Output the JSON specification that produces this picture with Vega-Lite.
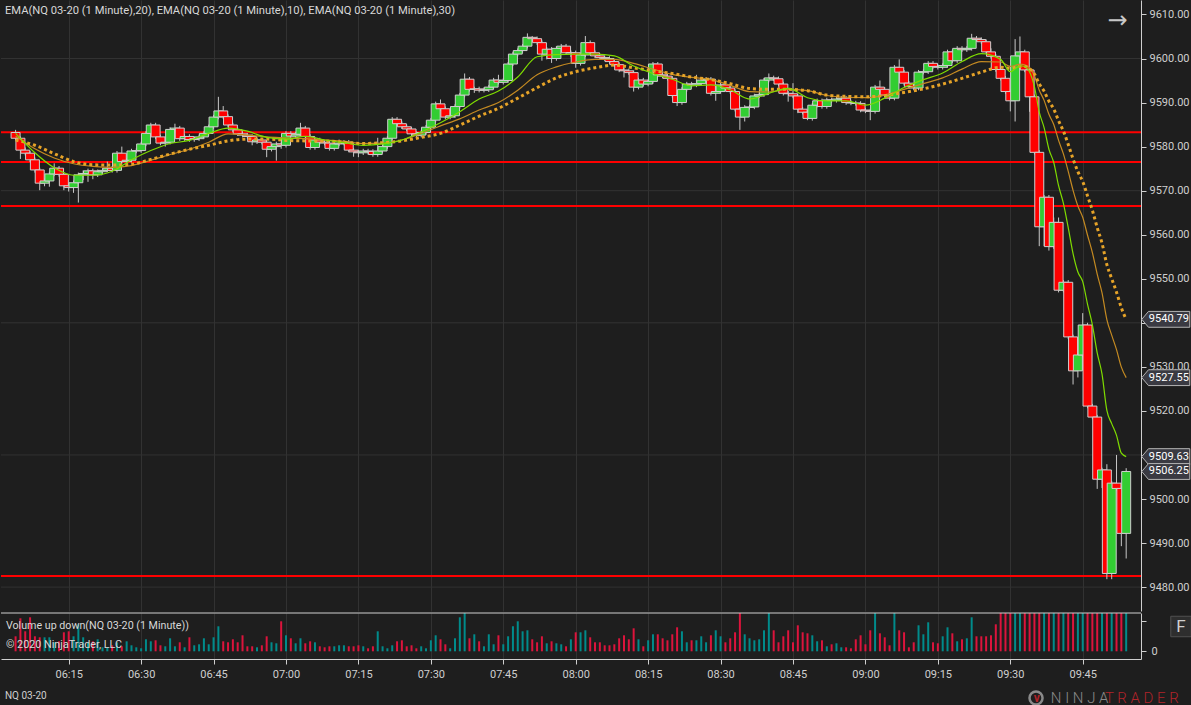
{
  "$schema": "https://vega.github.io/schema/vega-lite/v6.json",
  "background": "#1e1e1e",
  "padding": 0,
  "spacing": 1,
  "config": {"font": "Roboto", "view": {"stroke": null}},
  "datasets": {
    "bars": [
      {"t":4,"o":9583.2,"h":9583.8,"l":9581.4,"c":9581.9,"v":15},
      {"t":5,"o":9581.9,"h":9582.3,"l":9577.2,"c":9579.2,"v":33},
      {"t":6,"o":9579.2,"h":9579.8,"l":9578.0,"c":9578.5,"v":20},
      {"t":7,"o":9578.5,"h":9579.0,"l":9576.5,"c":9577.0,"v":34},
      {"t":8,"o":9577.0,"h":9577.5,"l":9574.1,"c":9574.7,"v":15},
      {"t":9,"o":9574.7,"h":9575.2,"l":9570.1,"c":9571.7,"v":14},
      {"t":10,"o":9571.7,"h":9572.8,"l":9571.0,"c":9572.2,"v":14},
      {"t":11,"o":9572.2,"h":9574.3,"l":9570.9,"c":9573.8,"v":14},
      {"t":12,"o":9573.8,"h":9576.2,"l":9573.3,"c":9575.1,"v":9},
      {"t":13,"o":9575.1,"h":9575.6,"l":9573.2,"c":9573.7,"v":10},
      {"t":14,"o":9573.7,"h":9574.2,"l":9570.1,"c":9571.1,"v":19},
      {"t":15,"o":9571.1,"h":9571.6,"l":9569.8,"c":9570.7,"v":20},
      {"t":16,"o":9570.7,"h":9572.3,"l":9569.5,"c":9571.8,"v":15},
      {"t":17,"o":9571.8,"h":9574.1,"l":9567.3,"c":9573.6,"v":27},
      {"t":18,"o":9573.6,"h":9574.6,"l":9572.4,"c":9573.9,"v":14},
      {"t":19,"o":9573.9,"h":9575.0,"l":9572.0,"c":9574.5,"v":9},
      {"t":20,"o":9574.5,"h":9575.0,"l":9572.6,"c":9573.6,"v":10},
      {"t":21,"o":9573.6,"h":9574.8,"l":9573.1,"c":9574.3,"v":12},
      {"t":22,"o":9574.3,"h":9575.1,"l":9573.8,"c":9574.6,"v":4},
      {"t":23,"o":9574.6,"h":9576.6,"l":9574.2,"c":9575.1,"v":4},
      {"t":24,"o":9575.1,"h":9575.6,"l":9574.1,"c":9574.6,"v":6},
      {"t":25,"o":9574.6,"h":9579.0,"l":9574.1,"c":9578.5,"v":9},
      {"t":26,"o":9578.5,"h":9580.0,"l":9576.1,"c":9576.6,"v":5},
      {"t":27,"o":9576.6,"h":9577.4,"l":9576.0,"c":9576.9,"v":10},
      {"t":28,"o":9576.9,"h":9579.5,"l":9576.4,"c":9579.0,"v":6},
      {"t":29,"o":9579.0,"h":9579.6,"l":9578.5,"c":9579.1,"v":4},
      {"t":30,"o":9579.1,"h":9581.1,"l":9578.6,"c":9580.6,"v":3},
      {"t":31,"o":9580.6,"h":9583.5,"l":9580.1,"c":9583.0,"v":12},
      {"t":32,"o":9583.0,"h":9585.4,"l":9582.5,"c":9584.9,"v":10},
      {"t":33,"o":9584.9,"h":9585.4,"l":9581.7,"c":9582.2,"v":11},
      {"t":34,"o":9582.2,"h":9582.7,"l":9580.3,"c":9580.8,"v":6},
      {"t":35,"o":9580.8,"h":9581.5,"l":9580.0,"c":9581.0,"v":5},
      {"t":36,"o":9581.0,"h":9584.4,"l":9580.5,"c":9583.9,"v":13},
      {"t":37,"o":9583.9,"h":9585.2,"l":9583.4,"c":9584.2,"v":5},
      {"t":38,"o":9584.2,"h":9584.7,"l":9581.3,"c":9581.8,"v":9},
      {"t":39,"o":9581.8,"h":9582.8,"l":9581.3,"c":9582.3,"v":4},
      {"t":40,"o":9582.3,"h":9582.8,"l":9581.1,"c":9581.6,"v":14},
      {"t":41,"o":9581.6,"h":9582.3,"l":9581.1,"c":9581.8,"v":6},
      {"t":42,"o":9581.8,"h":9582.7,"l":9581.3,"c":9582.2,"v":7},
      {"t":43,"o":9582.2,"h":9583.5,"l":9581.7,"c":9583.0,"v":13},
      {"t":44,"o":9583.0,"h":9585.0,"l":9582.5,"c":9584.5,"v":7},
      {"t":45,"o":9584.5,"h":9587.2,"l":9584.0,"c":9586.7,"v":14},
      {"t":46,"o":9586.7,"h":9591.3,"l":9586.2,"c":9588.1,"v":25},
      {"t":47,"o":9588.1,"h":9589.2,"l":9586.3,"c":9586.8,"v":10},
      {"t":48,"o":9586.8,"h":9587.3,"l":9584.4,"c":9584.9,"v":9},
      {"t":49,"o":9584.9,"h":9585.4,"l":9583.3,"c":9583.8,"v":12},
      {"t":50,"o":9583.8,"h":9584.3,"l":9582.4,"c":9582.9,"v":9},
      {"t":51,"o":9582.9,"h":9583.4,"l":9582.1,"c":9582.6,"v":16},
      {"t":52,"o":9582.6,"h":9583.1,"l":9581.8,"c":9582.3,"v":5},
      {"t":53,"o":9582.3,"h":9582.8,"l":9580.3,"c":9581.1,"v":5},
      {"t":54,"o":9581.1,"h":9582.0,"l":9580.6,"c":9581.5,"v":4},
      {"t":55,"o":9581.5,"h":9582.0,"l":9580.5,"c":9581.0,"v":6},
      {"t":56,"o":9581.0,"h":9581.5,"l":9577.6,"c":9579.4,"v":15},
      {"t":57,"o":9579.4,"h":9580.5,"l":9578.9,"c":9580.0,"v":9},
      {"t":58,"o":9580.0,"h":9581.1,"l":9576.8,"c":9580.6,"v":8},
      {"t":59,"o":9580.6,"h":9581.1,"l":9579.5,"c":9580.3,"v":30},
      {"t":60,"o":9580.3,"h":9583.5,"l":9579.8,"c":9583.0,"v":16},
      {"t":61,"o":9583.0,"h":9583.5,"l":9581.9,"c":9582.4,"v":13},
      {"t":62,"o":9582.4,"h":9583.3,"l":9581.9,"c":9582.8,"v":8},
      {"t":63,"o":9582.8,"h":9585.4,"l":9582.3,"c":9584.2,"v":13},
      {"t":64,"o":9584.2,"h":9584.7,"l":9581.8,"c":9582.3,"v":8},
      {"t":65,"o":9582.3,"h":9582.8,"l":9579.3,"c":9579.8,"v":10},
      {"t":66,"o":9579.8,"h":9582.0,"l":9579.3,"c":9581.5,"v":9},
      {"t":67,"o":9581.5,"h":9582.0,"l":9580.5,"c":9581.0,"v":5},
      {"t":68,"o":9581.0,"h":9581.5,"l":9580.3,"c":9580.8,"v":4},
      {"t":69,"o":9580.8,"h":9581.3,"l":9579.1,"c":9579.6,"v":5},
      {"t":70,"o":9579.6,"h":9581.1,"l":9579.1,"c":9580.6,"v":5},
      {"t":71,"o":9580.6,"h":9581.6,"l":9580.1,"c":9580.8,"v":6},
      {"t":72,"o":9580.8,"h":9581.5,"l":9580.3,"c":9581.0,"v":6},
      {"t":73,"o":9581.0,"h":9581.5,"l":9578.7,"c":9579.2,"v":5},
      {"t":74,"o":9579.2,"h":9579.7,"l":9577.7,"c":9578.8,"v":5},
      {"t":75,"o":9578.8,"h":9579.3,"l":9577.6,"c":9578.6,"v":6},
      {"t":76,"o":9578.6,"h":9579.5,"l":9578.1,"c":9579.0,"v":5},
      {"t":77,"o":9579.0,"h":9579.5,"l":9578.2,"c":9578.9,"v":3},
      {"t":78,"o":9578.9,"h":9579.4,"l":9577.7,"c":9578.2,"v":5},
      {"t":79,"o":9578.2,"h":9582.0,"l":9577.7,"c":9579.0,"v":20},
      {"t":80,"o":9579.0,"h":9580.5,"l":9578.5,"c":9580.0,"v":5},
      {"t":81,"o":9580.0,"h":9582.4,"l":9579.5,"c":9581.9,"v":3},
      {"t":82,"o":9581.9,"h":9586.7,"l":9581.4,"c":9586.2,"v":6},
      {"t":83,"o":9586.2,"h":9586.7,"l":9584.7,"c":9585.2,"v":10},
      {"t":84,"o":9585.2,"h":9585.7,"l":9584.0,"c":9584.5,"v":11},
      {"t":85,"o":9584.5,"h":9585.0,"l":9583.5,"c":9584.0,"v":5},
      {"t":86,"o":9584.0,"h":9584.5,"l":9582.4,"c":9582.9,"v":6},
      {"t":87,"o":9582.9,"h":9583.4,"l":9582.1,"c":9582.6,"v":3},
      {"t":88,"o":9582.6,"h":9583.7,"l":9582.1,"c":9583.2,"v":5},
      {"t":89,"o":9583.2,"h":9584.9,"l":9582.7,"c":9584.4,"v":3},
      {"t":90,"o":9584.4,"h":9586.5,"l":9583.9,"c":9586.0,"v":11},
      {"t":91,"o":9586.0,"h":9590.2,"l":9585.5,"c":9589.7,"v":16},
      {"t":92,"o":9589.7,"h":9590.7,"l":9588.1,"c":9588.6,"v":12},
      {"t":93,"o":9588.6,"h":9589.1,"l":9586.2,"c":9586.7,"v":7},
      {"t":94,"o":9586.7,"h":9587.5,"l":9586.2,"c":9587.0,"v":3},
      {"t":95,"o":9587.0,"h":9589.6,"l":9586.5,"c":9589.1,"v":13},
      {"t":96,"o":9589.1,"h":9592.2,"l":9588.6,"c":9591.7,"v":34},
      {"t":97,"o":9591.7,"h":9596.6,"l":9591.2,"c":9595.3,"v":45},
      {"t":98,"o":9595.3,"h":9595.8,"l":9592.5,"c":9593.0,"v":13},
      {"t":99,"o":9593.0,"h":9593.6,"l":9592.2,"c":9593.1,"v":17},
      {"t":100,"o":9593.1,"h":9593.6,"l":9592.3,"c":9592.8,"v":10},
      {"t":101,"o":9592.8,"h":9593.4,"l":9592.3,"c":9592.9,"v":5},
      {"t":102,"o":9592.9,"h":9594.0,"l":9592.4,"c":9593.5,"v":17},
      {"t":103,"o":9593.5,"h":9595.6,"l":9593.0,"c":9595.1,"v":7},
      {"t":104,"o":9595.1,"h":9596.3,"l":9594.1,"c":9594.6,"v":16},
      {"t":105,"o":9594.6,"h":9595.5,"l":9594.1,"c":9595.0,"v":7},
      {"t":106,"o":9595.0,"h":9599.2,"l":9594.5,"c":9598.75,"v":15},
      {"t":107,"o":9598.75,"h":9601.5,"l":9598.3,"c":9601.0,"v":25},
      {"t":108,"o":9601.0,"h":9602.3,"l":9600.5,"c":9601.8,"v":30},
      {"t":109,"o":9601.8,"h":9603.3,"l":9601.3,"c":9602.8,"v":20},
      {"t":110,"o":9602.8,"h":9605.7,"l":9602.3,"c":9604.8,"v":21},
      {"t":111,"o":9604.8,"h":9605.1,"l":9604.0,"c":9604.5,"v":12},
      {"t":112,"o":9604.5,"h":9605.0,"l":9603.1,"c":9603.6,"v":9},
      {"t":113,"o":9603.6,"h":9604.1,"l":9599.5,"c":9601.0,"v":15},
      {"t":114,"o":9601.0,"h":9602.6,"l":9599.8,"c":9602.1,"v":8},
      {"t":115,"o":9602.1,"h":9602.6,"l":9599.0,"c":9600.0,"v":10},
      {"t":116,"o":9600.0,"h":9602.8,"l":9599.5,"c":9602.3,"v":8},
      {"t":117,"o":9602.3,"h":9603.3,"l":9601.8,"c":9602.8,"v":7},
      {"t":118,"o":9602.8,"h":9603.3,"l":9600.8,"c":9601.3,"v":5},
      {"t":119,"o":9601.3,"h":9601.8,"l":9600.3,"c":9601.3,"v":12},
      {"t":120,"o":9601.3,"h":9601.8,"l":9597.9,"c":9598.9,"v":19},
      {"t":121,"o":9598.9,"h":9601.3,"l":9598.4,"c":9600.8,"v":19},
      {"t":122,"o":9600.8,"h":9605.1,"l":9600.3,"c":9603.6,"v":21},
      {"t":123,"o":9603.6,"h":9604.1,"l":9600.8,"c":9601.3,"v":14},
      {"t":124,"o":9601.3,"h":9601.8,"l":9600.1,"c":9600.6,"v":9},
      {"t":125,"o":9600.6,"h":9601.1,"l":9599.7,"c":9600.2,"v":9},
      {"t":126,"o":9600.2,"h":9600.7,"l":9599.5,"c":9600.0,"v":6},
      {"t":127,"o":9600.0,"h":9600.5,"l":9598.8,"c":9599.3,"v":6},
      {"t":128,"o":9599.3,"h":9599.8,"l":9598.1,"c":9598.6,"v":7},
      {"t":129,"o":9598.6,"h":9599.1,"l":9596.9,"c":9597.4,"v":13},
      {"t":130,"o":9597.4,"h":9597.9,"l":9595.7,"c":9597.2,"v":16},
      {"t":131,"o":9597.2,"h":9597.7,"l":9596.3,"c":9596.8,"v":12},
      {"t":132,"o":9596.8,"h":9597.3,"l":9592.5,"c":9593.5,"v":23},
      {"t":133,"o":9593.5,"h":9595.6,"l":9593.0,"c":9595.1,"v":12},
      {"t":134,"o":9595.1,"h":9595.6,"l":9593.7,"c":9594.2,"v":5},
      {"t":135,"o":9594.2,"h":9595.3,"l":9593.7,"c":9594.8,"v":11},
      {"t":136,"o":9594.8,"h":9599.2,"l":9594.3,"c":9598.75,"v":17},
      {"t":137,"o":9598.75,"h":9599.2,"l":9595.8,"c":9596.3,"v":17},
      {"t":138,"o":9596.3,"h":9596.8,"l":9595.5,"c":9596.0,"v":13},
      {"t":139,"o":9596.0,"h":9596.5,"l":9595.0,"c":9595.5,"v":11},
      {"t":140,"o":9595.5,"h":9596.0,"l":9591.1,"c":9591.6,"v":17},
      {"t":141,"o":9591.6,"h":9592.1,"l":9589.2,"c":9590.0,"v":24},
      {"t":142,"o":9590.0,"h":9593.5,"l":9589.5,"c":9593.0,"v":20},
      {"t":143,"o":9593.0,"h":9594.7,"l":9592.5,"c":9594.2,"v":9},
      {"t":144,"o":9594.2,"h":9594.7,"l":9593.5,"c":9594.0,"v":11},
      {"t":145,"o":9594.0,"h":9596.3,"l":9593.5,"c":9594.3,"v":11},
      {"t":146,"o":9594.3,"h":9595.6,"l":9593.8,"c":9595.1,"v":15},
      {"t":147,"o":9595.1,"h":9595.8,"l":9594.6,"c":9595.3,"v":9},
      {"t":148,"o":9595.3,"h":9595.8,"l":9591.6,"c":9592.1,"v":16},
      {"t":149,"o":9592.1,"h":9593.0,"l":9590.4,"c":9592.5,"v":21},
      {"t":150,"o":9592.5,"h":9594.5,"l":9592.0,"c":9594.0,"v":15},
      {"t":151,"o":9594.0,"h":9594.5,"l":9592.8,"c":9593.3,"v":9},
      {"t":152,"o":9593.3,"h":9593.8,"l":9592.0,"c":9592.5,"v":13},
      {"t":153,"o":9592.5,"h":9593.0,"l":9588.0,"c":9588.5,"v":19},
      {"t":154,"o":9588.5,"h":9589.0,"l":9583.8,"c":9586.7,"v":45},
      {"t":155,"o":9586.7,"h":9589.4,"l":9585.7,"c":9588.9,"v":17},
      {"t":156,"o":9588.9,"h":9589.5,"l":9588.4,"c":9589.0,"v":13},
      {"t":157,"o":9589.0,"h":9592.0,"l":9588.5,"c":9591.5,"v":11},
      {"t":158,"o":9591.5,"h":9592.3,"l":9591.0,"c":9591.8,"v":12},
      {"t":159,"o":9591.8,"h":9595.6,"l":9591.3,"c":9595.1,"v":21},
      {"t":160,"o":9595.1,"h":9596.6,"l":9594.6,"c":9595.6,"v":45},
      {"t":161,"o":9595.6,"h":9596.1,"l":9594.9,"c":9595.4,"v":21},
      {"t":162,"o":9595.4,"h":9595.9,"l":9593.7,"c":9594.2,"v":9},
      {"t":163,"o":9594.2,"h":9594.7,"l":9591.6,"c":9592.1,"v":15},
      {"t":164,"o":9592.1,"h":9592.6,"l":9590.2,"c":9592.0,"v":21},
      {"t":165,"o":9592.0,"h":9594.4,"l":9591.0,"c":9591.5,"v":9},
      {"t":166,"o":9591.5,"h":9592.0,"l":9587.6,"c":9588.5,"v":26},
      {"t":167,"o":9588.5,"h":9589.0,"l":9587.3,"c":9587.8,"v":19},
      {"t":168,"o":9587.8,"h":9588.3,"l":9586.0,"c":9586.4,"v":18},
      {"t":169,"o":9586.4,"h":9589.9,"l":9585.9,"c":9589.4,"v":16},
      {"t":170,"o":9589.4,"h":9590.9,"l":9588.9,"c":9590.4,"v":10},
      {"t":171,"o":9590.4,"h":9590.9,"l":9588.6,"c":9589.1,"v":11},
      {"t":172,"o":9589.1,"h":9591.1,"l":9588.6,"c":9590.6,"v":5},
      {"t":173,"o":9590.6,"h":9591.1,"l":9590.0,"c":9590.5,"v":7},
      {"t":174,"o":9590.5,"h":9591.3,"l":9590.0,"c":9590.8,"v":8},
      {"t":175,"o":9590.8,"h":9591.5,"l":9590.3,"c":9591.0,"v":4},
      {"t":176,"o":9591.0,"h":9591.5,"l":9589.5,"c":9590.0,"v":4},
      {"t":177,"o":9590.0,"h":9590.5,"l":9589.4,"c":9589.9,"v":3},
      {"t":178,"o":9589.9,"h":9590.4,"l":9589.3,"c":9589.8,"v":12},
      {"t":179,"o":9589.8,"h":9590.3,"l":9587.8,"c":9588.3,"v":16},
      {"t":180,"o":9588.3,"h":9588.8,"l":9587.6,"c":9588.1,"v":7},
      {"t":181,"o":9588.1,"h":9588.6,"l":9586.0,"c":9588.0,"v":21},
      {"t":182,"o":9588.0,"h":9594.0,"l":9587.5,"c":9593.5,"v":45},
      {"t":183,"o":9593.5,"h":9595.0,"l":9592.5,"c":9593.0,"v":18},
      {"t":184,"o":9593.0,"h":9593.5,"l":9591.2,"c":9591.7,"v":14},
      {"t":185,"o":9591.7,"h":9592.2,"l":9590.5,"c":9591.0,"v":6},
      {"t":186,"o":9591.0,"h":9598.5,"l":9590.5,"c":9598.0,"v":45},
      {"t":187,"o":9598.0,"h":9599.8,"l":9596.4,"c":9596.9,"v":21},
      {"t":188,"o":9596.9,"h":9597.4,"l":9593.9,"c":9594.4,"v":19},
      {"t":189,"o":9594.4,"h":9594.9,"l":9593.1,"c":9593.6,"v":4},
      {"t":190,"o":9593.6,"h":9594.1,"l":9592.8,"c":9593.3,"v":9},
      {"t":191,"o":9593.3,"h":9597.4,"l":9592.8,"c":9596.9,"v":26},
      {"t":192,"o":9596.9,"h":9597.5,"l":9596.4,"c":9597.0,"v":17},
      {"t":193,"o":9597.0,"h":9599.4,"l":9596.5,"c":9598.9,"v":29},
      {"t":194,"o":9598.9,"h":9599.4,"l":9597.7,"c":9598.2,"v":9},
      {"t":195,"o":9598.2,"h":9598.7,"l":9597.5,"c":9598.0,"v":8},
      {"t":196,"o":9598.0,"h":9598.9,"l":9597.5,"c":9598.4,"v":15},
      {"t":197,"o":9598.4,"h":9602.0,"l":9597.9,"c":9601.5,"v":24},
      {"t":198,"o":9601.5,"h":9602.0,"l":9599.0,"c":9599.5,"v":18},
      {"t":199,"o":9599.5,"h":9602.8,"l":9599.0,"c":9602.3,"v":10},
      {"t":200,"o":9602.3,"h":9602.8,"l":9601.5,"c":9602.0,"v":12},
      {"t":201,"o":9602.0,"h":9602.8,"l":9601.5,"c":9602.3,"v":13},
      {"t":202,"o":9602.3,"h":9605.6,"l":9601.8,"c":9604.6,"v":34},
      {"t":203,"o":9604.6,"h":9605.1,"l":9603.8,"c":9604.3,"v":15},
      {"t":204,"o":9604.3,"h":9604.8,"l":9603.3,"c":9603.8,"v":15},
      {"t":205,"o":9603.8,"h":9604.3,"l":9601.0,"c":9601.5,"v":15},
      {"t":206,"o":9601.5,"h":9602.3,"l":9600.0,"c":9600.5,"v":16},
      {"t":207,"o":9600.5,"h":9601.0,"l":9597.0,"c":9597.5,"v":27},
      {"t":208,"o":9597.5,"h":9598.0,"l":9595.0,"c":9595.5,"v":60},
      {"t":209,"o":9595.5,"h":9596.0,"l":9592.0,"c":9592.5,"v":60},
      {"t":210,"o":9592.5,"h":9593.0,"l":9588.0,"c":9590.4,"v":60},
      {"t":211,"o":9590.4,"h":9604.4,"l":9585.7,"c":9600.6,"v":60},
      {"t":212,"o":9600.6,"h":9605.0,"l":9600.1,"c":9601.5,"v":60},
      {"t":213,"o":9601.5,"h":9602.0,"l":9596.9,"c":9597.4,"v":60},
      {"t":214,"o":9597.4,"h":9597.9,"l":9587.9,"c":9591.3,"v":60},
      {"t":215,"o":9591.3,"h":9591.8,"l":9578.2,"c":9578.7,"v":60},
      {"t":216,"o":9578.7,"h":9579.2,"l":9557.4,"c":9561.8,"v":60},
      {"t":217,"o":9561.8,"h":9569.0,"l":9557.4,"c":9568.5,"v":60},
      {"t":218,"o":9568.5,"h":9569.0,"l":9556.4,"c":9557.3,"v":60},
      {"t":219,"o":9557.3,"h":9563.9,"l":9556.8,"c":9562.8,"v":60},
      {"t":220,"o":9562.8,"h":9563.9,"l":9546.9,"c":9547.4,"v":60},
      {"t":221,"o":9547.4,"h":9549.7,"l":9546.9,"c":9549.2,"v":60},
      {"t":222,"o":9549.2,"h":9549.7,"l":9536.3,"c":9536.8,"v":60},
      {"t":223,"o":9536.8,"h":9537.3,"l":9526.0,"c":9529.1,"v":60},
      {"t":224,"o":9529.1,"h":9533.2,"l":9527.6,"c":9532.7,"v":60},
      {"t":225,"o":9532.7,"h":9542.2,"l":9532.2,"c":9539.5,"v":60},
      {"t":226,"o":9539.5,"h":9540.0,"l":9520.6,"c":9521.1,"v":60},
      {"t":227,"o":9521.1,"h":9521.6,"l":9518.1,"c":9518.6,"v":60},
      {"t":228,"o":9518.6,"h":9519.1,"l":9502.3,"c":9504.5,"v":60},
      {"t":229,"o":9504.5,"h":9507.1,"l":9502.5,"c":9506.6,"v":60},
      {"t":230,"o":9506.6,"h":9507.9,"l":9481.8,"c":9483.1,"v":60},
      {"t":231,"o":9483.1,"h":9504.1,"l":9481.8,"c":9503.6,"v":60},
      {"t":232,"o":9503.6,"h":9510.0,"l":9501.9,"c":9502.4,"v":60},
      {"t":233,"o":9502.4,"h":9502.9,"l":9489.3,"c":9492.2,"v":60},
      {"t":234,"o":9492.2,"h":9507.0,"l":9486.5,"c":9506.25,"v":60}
    ],
    "ema": [
      {"t":4,"e10":9583.0,"e20":9582.4,"e30":9581.5},
      {"t":8,"e10":9578.6,"e20":9579.5,"e30":9580.3},
      {"t":12,"e10":9575.2,"e20":9577.4,"e30":9578.4},
      {"t":16,"e10":9573.5,"e20":9576.1,"e30":9576.6},
      {"t":20,"e10":9573.5,"e20":9575.5,"e30":9575.9},
      {"t":24,"e10":9574.4,"e20":9575.3,"e30":9575.8},
      {"t":28,"e10":9577.0,"e20":9575.7,"e30":9576.0},
      {"t":32,"e10":9579.1,"e20":9576.9,"e30":9577.1},
      {"t":36,"e10":9580.7,"e20":9578.2,"e30":9578.3},
      {"t":40,"e10":9581.4,"e20":9579.4,"e30":9579.4},
      {"t":44,"e10":9583.0,"e20":9581.0,"e30":9580.3},
      {"t":48,"e10":9584.2,"e20":9582.9,"e30":9581.3},
      {"t":52,"e10":9583.5,"e20":9582.6,"e30":9581.7},
      {"t":56,"e10":9582.1,"e20":9582.2,"e30":9581.7},
      {"t":60,"e10":9581.7,"e20":9582.0,"e30":9581.4},
      {"t":64,"e10":9582.3,"e20":9581.8,"e30":9581.3},
      {"t":68,"e10":9581.5,"e20":9581.5,"e30":9581.3},
      {"t":72,"e10":9580.9,"e20":9581.2,"e30":9581.0},
      {"t":76,"e10":9580.3,"e20":9580.7,"e30":9580.7},
      {"t":80,"e10":9580.6,"e20":9580.8,"e30":9580.9},
      {"t":84,"e10":9581.5,"e20":9581.5,"e30":9581.3},
      {"t":88,"e10":9583.3,"e20":9583.0,"e30":9582.1},
      {"t":92,"e10":9585.4,"e20":9584.7,"e30":9583.0},
      {"t":96,"e10":9587.9,"e20":9586.3,"e30":9584.9},
      {"t":100,"e10":9590.8,"e20":9588.3,"e30":9586.9},
      {"t":104,"e10":9592.6,"e20":9590.0,"e30":9588.7},
      {"t":108,"e10":9595.8,"e20":9592.8,"e30":9591.0},
      {"t":112,"e10":9600.4,"e20":9596.3,"e30":9593.4},
      {"t":116,"e10":9600.9,"e20":9598.1,"e30":9595.6},
      {"t":120,"e10":9601.0,"e20":9599.2,"e30":9597.0},
      {"t":124,"e10":9601.0,"e20":9599.8,"e30":9597.9},
      {"t":128,"e10":9600.6,"e20":9599.8,"e30":9598.5},
      {"t":132,"e10":9598.3,"e20":9598.9,"e30":9597.9},
      {"t":136,"e10":9596.6,"e20":9597.6,"e30":9597.2},
      {"t":140,"e10":9595.3,"e20":9596.4,"e30":9596.6},
      {"t":144,"e10":9593.8,"e20":9595.7,"e30":9595.8},
      {"t":148,"e10":9594.0,"e20":9595.2,"e30":9595.2},
      {"t":152,"e10":9592.9,"e20":9593.9,"e30":9594.3},
      {"t":156,"e10":9590.8,"e20":9592.5,"e30":9593.2},
      {"t":160,"e10":9592.1,"e20":9592.4,"e30":9593.0},
      {"t":164,"e10":9593.2,"e20":9593.0,"e30":9593.0},
      {"t":168,"e10":9591.1,"e20":9592.7,"e30":9592.7},
      {"t":172,"e10":9590.4,"e20":9591.6,"e30":9591.7},
      {"t":176,"e10":9590.4,"e20":9591.2,"e30":9591.4},
      {"t":180,"e10":9589.4,"e20":9591.1,"e30":9591.3},
      {"t":184,"e10":9591.0,"e20":9591.7,"e30":9591.6},
      {"t":188,"e10":9593.4,"e20":9593.0,"e30":9592.3},
      {"t":192,"e10":9595.2,"e20":9594.3,"e30":9593.1},
      {"t":196,"e10":9596.7,"e20":9595.6,"e30":9594.2},
      {"t":200,"e10":9599.3,"e20":9597.6,"e30":9595.5},
      {"t":204,"e10":9601.1,"e20":9599.3,"e30":9596.9},
      {"t":208,"e10":9599.8,"e20":9599.2,"e30":9598.0},
      {"t":210,"e10":9597.0,"e20":9598.2,"e30":9597.8},
      {"t":211,"e10":9597.65,"e20":9598.43,"e30":9597.98},
      {"t":212,"e10":9598.35,"e20":9598.72,"e30":9598.21},
      {"t":213,"e10":9598.18,"e20":9598.59,"e30":9598.16},
      {"t":214,"e10":9596.93,"e20":9597.9,"e30":9597.71},
      {"t":215,"e10":9593.61,"e20":9596.07,"e30":9596.49},
      {"t":216,"e10":9587.83,"e20":9592.81,"e30":9594.25},
      {"t":217,"e10":9584.32,"e20":9590.49,"e30":9592.59},
      {"t":218,"e10":9579.4,"e20":9587.33,"e30":9590.31},
      {"t":219,"e10":9576.39,"e20":9585.0,"e30":9588.54},
      {"t":220,"e10":9571.12,"e20":9581.42,"e30":9585.88},
      {"t":221,"e10":9567.13,"e20":9578.35,"e30":9583.52},
      {"t":222,"e10":9561.62,"e20":9574.39,"e30":9580.5},
      {"t":223,"e10":9555.71,"e20":9570.08,"e30":9577.19},
      {"t":224,"e10":9551.52,"e20":9566.52,"e30":9574.32},
      {"t":225,"e10":9549.34,"e20":9563.95,"e30":9572.07},
      {"t":226,"e10":9544.2,"e20":9559.87,"e30":9568.79},
      {"t":227,"e10":9539.55,"e20":9555.94,"e30":9565.55},
      {"t":228,"e10":9533.18,"e20":9551.05,"e30":9561.61},
      {"t":229,"e10":9528.35,"e20":9546.81,"e30":9558.07},
      {"t":230,"e10":9520.12,"e20":9540.75,"e30":9553.23},
      {"t":231,"e10":9517.12,"e20":9537.21,"e30":9550.03},
      {"t":232,"e10":9514.44,"e20":9533.9,"e30":9546.96},
      {"t":233,"e10":9510.4,"e20":9529.93,"e30":9543.42},
      {"t":234,"e10":9509.63,"e20":9527.55,"e30":9540.79}
    ]
  },
  "vconcat": [
    {
      "width": 1140,
      "height": 611,
      "layer": [
        {
          "data": {"values": [{"g": 9480}, {"g": 9510}, {"g": 9540}, {"g": 9570}, {"g": 9600}]},
          "mark": {"type": "rule", "color": "#323232", "strokeWidth": 1},
          "encoding": {
            "y": {
              "field": "g", "type": "quantitative",
              "scale": {"domain": [9474.58, 9613.28], "nice": false, "zero": false, "padding": 0},
              "axis": {
                "orient": "right", "title": null, "grid": false,
                "values": [9480, 9490, 9500, 9510, 9520, 9530, 9540, 9550, 9560, 9570, 9580, 9590, 9600, 9610],
                "labelExpr": "datum.value == 9540 || datum.value == 9510 ? '' : format(datum.value, '.2f')",
                "tickSize": 5, "tickColor": "#cfcfcf", "domainColor": "#cfcfcf",
                "labelColor": "#cfcfcf", "labelFontSize": 11, "labelPadding": 3
              }
            }
          }
        },
        {
          "data": {"values": [{"r": 9583.25}, {"r": 9576.5}, {"r": 9566.5}, {"r": 9482.5}]},
          "mark": {"type": "rule", "color": "#ff0000", "strokeWidth": 2},
          "encoding": {"y": {"field": "r", "type": "quantitative"}}
        },
        {
          "data": {"name": "bars"},
          "mark": {"type": "rule", "color": "#c8c8c8", "strokeWidth": 1},
          "encoding": {
            "x": {
              "field": "t", "type": "quantitative",
              "scale": {"domain": [0.98, 237.07], "nice": false, "zero": false, "padding": 0},
              "axis": {
                "title": null, "values": [15, 30, 45, 60, 75, 90, 105, 120, 135, 150, 165, 180, 195, 210, 225],
                "grid": true, "gridColor": "#323232", "labels": false, "ticks": false, "domain": false
              }
            },
            "y": {"field": "l", "type": "quantitative"},
            "y2": {"field": "h"}
          }
        },
        {
          "data": {"name": "bars"},
          "mark": {"type": "bar", "width": 9, "stroke": "#cfcfcf", "strokeWidth": 1},
          "encoding": {
            "x": {"field": "t", "type": "quantitative"},
            "y": {"field": "o", "type": "quantitative"},
            "y2": {"field": "c"},
            "fill": {"condition": {"test": "datum.c >= datum.o", "value": "#32cd32"}, "value": "#ff0000"}
          }
        },
        {
          "data": {"name": "ema"},
          "mark": {"type": "line", "color": "#c48a22", "strokeWidth": 1.2, "interpolate": "monotone"},
          "encoding": {"x": {"field": "t", "type": "quantitative"}, "y": {"field": "e20", "type": "quantitative"}}
        },
        {
          "data": {"name": "ema"},
          "mark": {"type": "line", "color": "#e6a328", "strokeWidth": 3, "strokeDash": [3, 3], "strokeCap": "butt", "interpolate": "monotone"},
          "encoding": {"x": {"field": "t", "type": "quantitative"}, "y": {"field": "e30", "type": "quantitative"}}
        },
        {
          "data": {"name": "ema"},
          "mark": {"type": "line", "color": "#7fdc00", "strokeWidth": 1.2, "interpolate": "monotone"},
          "encoding": {"x": {"field": "t", "type": "quantitative"}, "y": {"field": "e10", "type": "quantitative"}}
        },
        {
          "data": {"values": [{}]},
          "mark": {"type": "text", "align": "left", "baseline": "middle", "fontSize": 11.2, "color": "#d8d8d8"},
          "encoding": {
            "x": {"datum": 1.8}, "y": {"datum": 9610.78},
            "text": {"value": "EMA(NQ 03-20 (1 Minute),20), EMA(NQ 03-20 (1 Minute),10), EMA(NQ 03-20 (1 Minute),30)"}
          }
        },
        {
          "data": {"values": [{}]},
          "mark": {"type": "text", "align": "center", "baseline": "middle", "fontSize": 24, "font": "DejaVu Sans", "color": "#c8c8c8"},
          "encoding": {"x": {"datum": 232.2}, "y": {"datum": 9608.51}, "text": {"value": "→"}}
        },
        {
          "data": {"values": [{"p": 9540.79}, {"p": 9527.55}, {"p": 9509.63}, {"p": 9506.25}]},
          "mark": {
            "type": "point", "filled": true, "size": 2304, "fill": "#3a3a42", "stroke": "#b4b4b4", "strokeWidth": 1, "opacity": 1,
            "shape": "M-1,0L-0.72,-0.33L1,-0.33L1,0.33L-0.72,0.33Z"
          },
          "encoding": {"x": {"datum": 242.2}, "y": {"field": "p", "type": "quantitative"}}
        },
        {
          "data": {"values": [{"p": 9540.79}, {"p": 9527.55}, {"p": 9509.63}, {"p": 9506.25}]},
          "mark": {"type": "text", "align": "left", "baseline": "middle", "fontSize": 11, "color": "#ffffff"},
          "encoding": {
            "x": {"datum": 238.7}, "y": {"field": "p", "type": "quantitative"},
            "text": {"field": "p", "type": "quantitative", "format": ".2f"}
          }
        }
      ]
    },
    {
      "width": 1140,
      "height": 46,
      "layer": [
        {
          "data": {"name": "bars"},
          "mark": {"type": "bar", "width": 2, "clip": true},
          "encoding": {
            "x": {
              "field": "t", "type": "quantitative",
              "scale": {"domain": [0.98, 237.07], "nice": false, "zero": false, "padding": 0},
              "axis": {
                "title": null, "values": [15, 30, 45, 60, 75, 90, 105, 120, 135, 150, 165, 180, 195, 210, 225],
                "labelExpr": "(floor(datum.value/60)+6 < 10 ? '0' : '') + (floor(datum.value/60)+6) + ':' + (datum.value%60 < 10 ? '0' : '') + (datum.value%60)",
                "grid": true, "gridColor": "#323232", "tickSize": 5, "tickColor": "#cfcfcf", "domainColor": "#cfcfcf",
                "labelColor": "#cfcfcf", "labelFontSize": 11, "labelPadding": 4, "labelFlush": false
              }
            },
            "y": {
              "field": "v", "type": "quantitative",
              "scale": {"domain": [-7.7, 38.3], "nice": false, "zero": false, "padding": 0},
              "axis": {
                "orient": "right", "title": null, "grid": false, "values": [0, 30.3],
                "labelExpr": "datum.value == 0 ? '0' : ''",
                "tickSize": 5, "tickColor": "#cfcfcf", "domainColor": "#cfcfcf",
                "labelColor": "#cfcfcf", "labelFontSize": 11, "labelPadding": 5
              }
            },
            "fill": {"condition": {"test": "datum.c >= datum.o", "value": "#008b8b"}, "value": "#dc143c"}
          }
        },
        {
          "data": {"values": [{}]},
          "mark": {"type": "rule", "color": "#cfcfcf", "strokeWidth": 1},
          "encoding": {"y": {"datum": 38.3}}
        },
        {
          "data": {"values": [{}]},
          "mark": {"type": "text", "align": "left", "baseline": "middle", "fontSize": 10.7, "color": "#d8d8d8"},
          "encoding": {"x": {"datum": 2.0}, "y": {"datum": 25.8}, "text": {"value": "Volume up down(NQ 03-20 (1 Minute))"}}
        },
        {
          "data": {"values": [{}]},
          "mark": {"type": "text", "align": "left", "baseline": "middle", "fontSize": 10.8, "color": "#d8d8d8"},
          "encoding": {"x": {"datum": 2.0}, "y": {"datum": 6.3}, "text": {"value": "© 2020 NinjaTrader, LLC"}}
        },
        {
          "data": {"values": [{}]},
          "mark": {"type": "text", "align": "left", "baseline": "middle", "fontSize": 10, "color": "#cfcfcf"},
          "encoding": {"x": {"datum": 1.8}, "y": {"datum": -44.7}, "text": {"value": "NQ 03-20"}}
        },
        {
          "data": {"values": [{}]},
          "mark": {"type": "point", "shape": "square", "size": 420, "filled": true, "fill": "#2e2e2e", "stroke": "#505050", "strokeWidth": 1, "opacity": 1},
          "encoding": {"x": {"datum": 245.36}, "y": {"datum": 24.8}}
        },
        {
          "data": {"values": [{}]},
          "mark": {"type": "text", "align": "center", "baseline": "middle", "fontSize": 17, "color": "#d0d0d0"},
          "encoding": {"x": {"datum": 245.36}, "y": {"datum": 24.8}, "text": {"value": "F"}}
        },
        {
          "data": {"values": [{}]},
          "mark": {"type": "point", "shape": "circle", "size": 170, "filled": false, "stroke": "#8a8a8a", "strokeWidth": 2.5, "opacity": 1},
          "encoding": {"x": {"datum": 215.33}, "y": {"datum": -46.7}}
        },
        {
          "data": {"values": [{}]},
          "mark": {"type": "text", "align": "center", "baseline": "middle", "fontSize": 12, "fontWeight": "bold", "color": "#b0242a"},
          "encoding": {"x": {"datum": 215.5}, "y": {"datum": -46.7}, "text": {"value": "v"}}
        },
        {
          "data": {"values": [{}]},
          "mark": {"type": "text", "align": "left", "baseline": "middle", "fontSize": 15, "fontWeight": 300, "color": "#8a8a8a"},
          "encoding": {"x": {"datum": 218.4}, "y": {"datum": -46.4}, "text": {"value": "N I N J A"}}
        },
        {
          "data": {"values": [{}]},
          "mark": {"type": "text", "align": "left", "baseline": "middle", "fontSize": 15, "fontWeight": 300, "color": "#b0242a"},
          "encoding": {"x": {"datum": 229.6}, "y": {"datum": -46.4}, "text": {"value": "T R A D E R"}}
        }
      ]
    }
  ]
}
